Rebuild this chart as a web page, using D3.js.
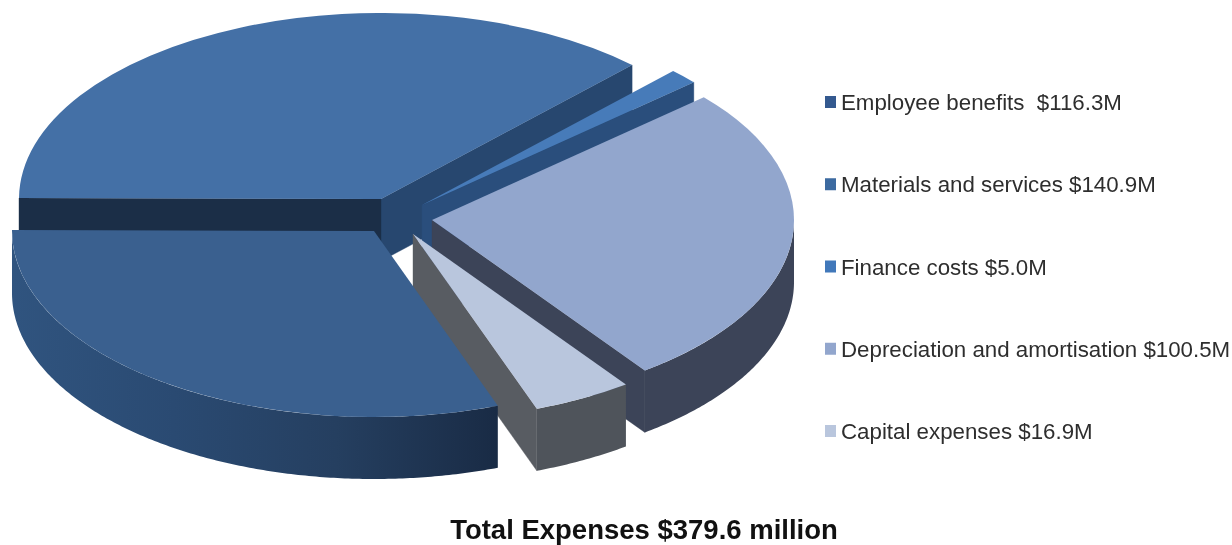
<!DOCTYPE html>
<html>
<head>
<meta charset="utf-8">
<script src="https://cdn.jsdelivr.net/npm/d3@7"></script>
<style>
html,body{margin:0;padding:0;background:#fff;overflow:hidden}
svg{display:block;filter:blur(0.5px)}
text{font-family:"Liberation Sans",Arial,sans-serif;white-space:pre}
</style>
</head>
<body>
<svg id="chart" width="1232" height="545"></svg>
<script>
// ---- data ----
const categories = ["Employee benefits ", "Materials and services", "Finance costs", "Depreciation and amortisation", "Capital expenses"];
const values = [116.3, 140.9, 5.0, 100.5, 16.9];
const valueLabels = ["$116.3M", "$140.9M", "$5.0M", "$100.5M", "$16.9M"];
const chartTitle = "Total Expenses $379.6 million";

// ---- style per category ----
const topColors = ["#3a608f", "#4470a6", "#477bb9", "#92a6cd", "#b9c6dd"];
const legendColors = ["#34598f", "#3c6aa0", "#4178ba", "#92a6cd", "#b9c6dd"];
const wallColors = ["#1b2e47", "#27476f", "#2a4e7c", "#3c4458", "#585c62"];
const outerStops = [["#30547f", "#2a4a72", "#253f60", "#192b45"], ["#27476f"], ["#2a4e7c"], ["#3c4458", "#3c4458"], ["#4f545b", "#4f545b"]];

// ---- layout ----
const R = 362, RY = 186, H = 62;
const centers = [[374, 231], [381, 199], [422, 205], [432, 220], [413, 234]];
const drawOrder = [1, 2, 3, 4, 0];
const startDeg = 160;
const TAU = 2 * Math.PI;

const svg = d3.select("#chart");
const defs = svg.append("defs");
const color = d3.scaleOrdinal().domain(categories).range(topColors);
const legendColor = d3.scaleOrdinal().domain(categories).range(legendColors);

const pie = d3.pie().sort(null)
  .startAngle(startDeg * Math.PI / 180)
  .endAngle((startDeg + 360) * Math.PI / 180);
const arcs = pie(values);
const arcGen = d3.arc().innerRadius(0).outerRadius(R);
const k = RY / R;

const g = svg.append("g");
const px = (c, a) => c[0] + R * Math.sin(a);
const py = (c, a) => c[1] - RY * Math.cos(a);
const line = d3.line();

function radialWall(sel, c, a, fill) {
  const x = px(c, a), y = py(c, a);
  sel.append("path")
    .attr("d", line([[c[0], c[1]], [x, y], [x, y + H], [c[0], c[1] + H]]) + "Z")
    .attr("fill", fill).attr("stroke", fill).attr("stroke-width", 0.4);
}

drawOrder.forEach(i => {
  const d = arcs[i], c = centers[i];
  const s = g.append("g").attr("class", "slice");
  const a0 = d.startAngle >= TAU ? d.startAngle - TAU : d.startAngle;
  const a1 = a0 + (d.endAngle - d.startAngle);
  const lo = Math.max(a0, Math.PI / 2), hi = Math.min(a1, 3 * Math.PI / 2);
  // radial faces that look toward the viewer
  if (i === 1) { radialWall(s, c, a1, wallColors[i]); radialWall(s, c, a0, wallColors[0]); }
  if (i === 2 || i === 3 || i === 4) { radialWall(s, c, a1, wallColors[i]); }
  if (hi > lo) {
    const id = "rim" + i;
    const lg = defs.append("linearGradient").attr("id", id)
      .attr("gradientUnits", "userSpaceOnUse")
      .attr("x1", Math.min(px(c, lo), px(c, hi))).attr("x2", Math.max(px(c, lo), px(c, hi)))
      .attr("y1", 0).attr("y2", 0);
    const st = outerStops[i];
    st.forEach((col, j) => lg.append("stop").attr("offset", j / Math.max(1, st.length - 1)).attr("stop-color", col));
    const area = d3.area()
      .x(a => px(c, a))
      .y0(a => py(c, a))
      .y1(a => py(c, a) + H);
    s.append("path").attr("d", area(d3.range(lo, hi, 0.01).concat([hi]))).attr("fill", `url(#${id})`);
  }
  s.append("path")
    .attr("d", arcGen(d))
    .attr("transform", `translate(${c[0]},${c[1]}) scale(1,${k})`)
    .attr("fill", color(categories[i]));
});

// ---- legend ----
const legendY = d3.scalePoint().domain(categories).range([102, 431]);
const legend = svg.append("g").selectAll("g").data(categories).join("g")
  .attr("transform", d => `translate(0,${legendY(d)})`);
legend.append("rect").attr("x", 825).attr("y", -6).attr("width", 11).attr("height", 12)
  .attr("fill", d => legendColor(d));
legend.append("text").attr("x", 841).attr("y", 8)
  .attr("font-size", 22.3).attr("fill", "#2e2e2e")
  .text((d, i) => d + " " + valueLabels[i]);

svg.append("text").attr("x", 644).attr("y", 539).attr("text-anchor", "middle")
  .attr("font-size", 27.5).attr("font-weight", "bold").attr("fill", "#111")
  .text(chartTitle);
</script>
</body>
</html>
